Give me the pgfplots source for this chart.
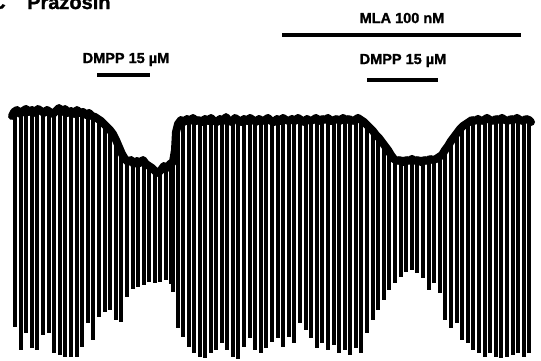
\documentclass[border=0pt]{standalone}
\usepackage{pgfplots}
\pgfplotsset{compat=1.18}
\usepackage{pgfplotstable}
\usepackage{fontspec}
\setmainfont{Liberation Sans}
\newfontfamily\heavy{Liberation Sans}[UprightFont=*-Bold, FakeBold=1.3]
\pgfplotstableread{
x t b
15 113 327
21 112 350
26 114 333
32 113 348
37 112 350
43 113 335
49 114 333
54 112 353
60 113 355
65 114 357
71 113 357
77 114 357
82 115 347
88 116 323
93 118 340
99 121 317
105 125 312
110 130 310
116 140 320
121 152 322
127 160 297
133 163 289
138 164 287
144 163 285
149 165 282
155 170 283
160 173 282
166 167 280
171 165 284
173 165 292
178 124 328
183 122 337
189 121 347
194 121 353
200 122 357
205 121 358
211 120 353
216 121 350
222 122 343
227 121 350
233 120 357
238 121 359
244 122 347
250 121 338
255 120 350
261 121 353
266 122 348
272 121 342
278 120 338
283 121 347
289 122 337
294 121 343
300 120 323
306 121 330
311 122 338
317 121 348
322 120 343
328 121 350
334 122 345
339 121 353
345 120 350
350 121 355
356 122 348
361 121 353
367 124 333
373 131 320
378 138 310
384 145 300
389 153 290
395 159 283
401 161 277
406 161 272
412 162 270
417 161 273
423 160 278
429 161 290
434 160 283
440 158 293
445 152 320
451 142 328
457 134 323
462 128 340
468 124 343
473 121 350
479 120 353
485 121 357
490 120 353
496 121 357
501 120 358
507 121 357
513 120 355
518 121 353
524 120 357
529 121 353
}\spikes
\pgfplotstableread{
x y
12 116
14 112
17 110
20 114
23 111
26 109
29 112
32 110
35 113
38 109
41 111
44 113
47 110
50 112
53 114
56 111
59 108
62 112
65 109
68 113
71 111
74 114
77 110
80 113
83 112
86 115
89 113
92 116
95 117
98 119
101 121
104 124
107 127
110 130
113 134
116 140
119 147
122 154
125 159
128 162
131 160
134 164
137 161
140 163
143 160
146 164
149 166
152 168
155 171
158 173
161 170
164 166
167 168
170 164
173 162
175 150
176 132
178 124
181 120
184 122
187 119
190 121
193 118
196 121
199 120
202 122
205 119
208 121
211 118
214 121
217 122
220 119
223 121
226 117
229 121
232 122
235 118
238 120
241 122
244 119
247 121
250 118
253 120
256 122
259 119
262 121
265 120
268 118
271 121
274 122
277 119
280 121
283 118
286 120
289 121
292 119
295 121
298 118
301 120
304 122
307 119
310 121
313 120
316 118
319 121
322 119
325 120
328 118
331 121
334 120
337 119
340 121
343 118
346 120
349 119
352 121
355 120
358 118
361 120
364 122
367 125
370 128
373 131
376 135
379 138
382 142
385 146
388 150
391 155
394 159
397 161
400 160
403 162
406 160
409 161
412 159
415 161
418 160
421 162
424 160
427 161
430 159
433 160
436 159
439 157
442 155
445 150
448 146
451 141
454 137
457 133
460 129
463 126
466 124
469 122
472 120
475 121
478 119
481 121
484 120
487 118
490 120
493 121
496 119
499 120
502 118
505 120
508 121
511 119
514 120
517 118
520 120
523 121
526 119
529 120
531 122
}\baseline
\begin{document}
\begin{tikzpicture}
\useasboundingbox (0,0) rectangle (541pt,360pt);
\clip (0,0) rectangle (541pt,360pt);
\begin{axis}[at={(0,0)}, anchor=south west, scale only axis,
  width=541pt, height=360pt, xmin=0, xmax=541, ymin=0, ymax=360,
  y dir=reverse, axis lines=none, clip=false]
\addplot[black, line width=3.2pt, mark=none, -,
  quiver={u=0, v=\thisrow{b}-\thisrow{t}}]
  table[x=x, y=t] {\spikes};
\addplot[black, line width=8pt, line join=round, line cap=round, mark=none]
  table[x=x, y=y] {\baseline};
\addplot[black, line width=4pt, mark=none] coordinates {(282,34.5) (521,34.5)};
\addplot[black, line width=4pt, mark=none] coordinates {(97,75) (150,75)};
\addplot[black, line width=4pt, mark=none] coordinates {(367,80) (438,80)};
\node[anchor=base west, font=\fontsize{20}{20}\heavy, inner sep=0pt] at (axis cs:-9,9) {C};
\node[anchor=base west, font=\fontsize{20}{20}\heavy, inner sep=0pt] at (axis cs:27,9) {Prazosin};
\node[anchor=base, font=\fontsize{14.5}{14.5}\heavy, inner sep=0pt] at (axis cs:402,23) {MLA 100 nM};
\node[anchor=base, font=\fontsize{14.5}{14.5}\heavy, inner sep=0pt] at (axis cs:126,63) {DMPP 15 µM};
\node[anchor=base, font=\fontsize{14.5}{14.5}\heavy, inner sep=0pt] at (axis cs:403,64) {DMPP 15 µM};
\end{axis}
\end{tikzpicture}
\end{document}
